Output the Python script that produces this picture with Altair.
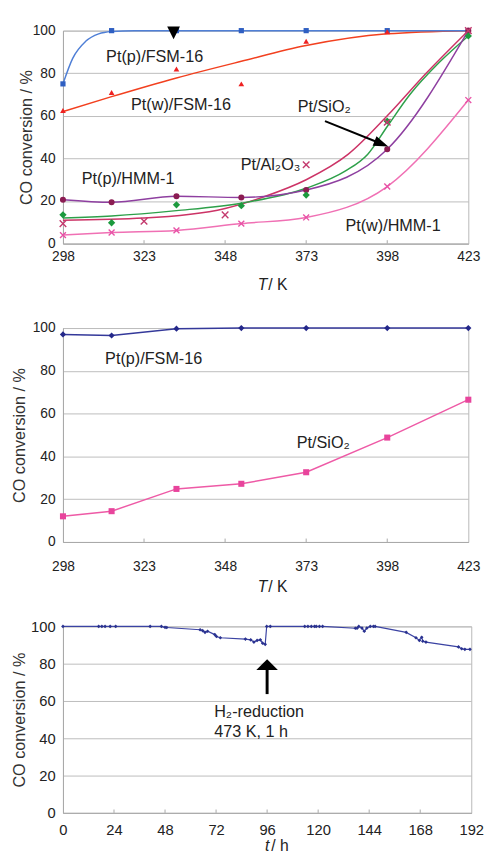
import altair as alt
import pandas as pd

FONT = "Liberation Sans"
TXT = "#222222"

# ---------------- panel (a): CO conversion vs T ----------------
T_ticks = [298, 323, 348, 373, 398, 423]
T_pts = [298, 313, 333, 353, 373, 398, 423]
T_al = [298, 323, 348, 373, 398, 423]

pfsm_a = [75, 100, 100, 100, 100, 100, 100]          # Pt(p)/FSM-16
wfsm_a = [62.5, 71, 82, 75, 95, 99.5, 100]          # Pt(w)/FSM-16
phmm_a = [20.6, 19.4, 22.2, 21.7, 25.2, 44.3, 100]  # Pt(p)/HMM-1
sio2_a = [13.5, 9.8, 18.2, 17.8, 22.8, 57.5, 97.5]  # Pt/SiO2
al2o3_a = [9.4, 10.5, 13.5, 37, 57, 100]            # Pt/Al2O3
whmm_a = [4.0, 5.2, 6.2, 9.4, 12.3, 26.8, 67.4]     # Pt(w)/HMM-1

# smoothed trend curves
pfsm_fit_T = [298, 301, 305, 309, 313, 320, 423]
pfsm_fit = [75, 87, 95, 98.5, 99.6, 100, 100]
wfsm_fit_T = [298, 313, 333, 353, 373, 398, 423]
wfsm_fit = [62, 69, 77.8, 85.6, 93, 98.5, 100]
sio2_fit_T = [298, 313, 333, 353, 373, 385, 392, 398, 405, 414, 423]
sio2_fit = [12, 13, 15.5, 19, 26, 34, 42, 55, 70, 85, 97.5]
al2o3_fit_T = [298, 323, 348, 360, 373, 386, 398, 410, 423]
al2o3_fit = [11, 12, 16.5, 22, 30, 42, 60, 80, 100]

ann_a_text = ["Pt(p)/FSM-16", "Pt(w)/FSM-16", "Pt/SiO\u2082", "Pt/Al\u2082O\u2083", "Pt(p)/HMM-1", "Pt(w)/HMM-1"]
ann_a_x = [311.3, 319, 370.4, 352.8, 303.8, 385.1]
ann_a_y = [87.8, 65.2, 64, 37, 30.2, 8.3]

arrow_a_x = [378.8]
arrow_a_y = [57.5]
arrow_a_x2 = [396.2]
arrow_a_y2 = [46.9]
marker_a_x = [332.1]
marker_a_y = [99.0]

# ---------------- panel (b) ----------------
pfsm_b = [97, 96.5, 99.7, 100, 100, 100, 100]
sio2_b = [12, 14.4, 24.8, 27.2, 32.6, 48.8, 66.5]
ann_b_text = ["Pt(p)/FSM-16", "Pt/SiO\u2082"]
ann_b_x = [311, 370.1]
ann_b_y = [85.3, 46]

# ---------------- panel (c): time on stream ----------------
t_ticks = [0, 24, 48, 72, 96, 120, 144, 168, 192]
hours = [0, 16.8, 18.3, 19.8, 22.2, 24.8, 41, 46.3, 48, 48.8, 64.5, 65.7, 66.8, 68,
         71.4, 72.2, 74, 85.8, 88.3, 89.8, 91.3, 92.8, 93.9, 95.1, 95.8, 97.5,
         113.7, 115.2, 116.8, 118.3, 119.1, 120.6, 122.1, 137.5, 138.3, 139.1,
         140.6, 141.7, 142.9, 144.5, 146, 146.8, 161.4, 166, 167.6, 168.7, 169.2,
         170.7, 186, 187.5, 189, 191.4]
conv_c = [100, 100, 100, 100, 100, 100, 100, 100, 99.5, 99.4, 98.2, 97.7, 96.8, 97.4,
          95.6, 94.6, 93.9, 93.2, 92.8, 91.6, 92.5, 92.8, 91.0, 90.4, 100, 100,
          100, 100, 100, 100, 100, 100, 100, 99.0, 99.0, 100,
          99.1, 97.4, 99.1, 100, 100, 100, 96.8, 93.9, 92.5, 94.2, 92.1,
          91.6, 89.0, 88.0, 87.7, 87.7]
ann_c_text = ["H\u2082-reduction", "473 K, 1 h"]
ann_c_x = [71.1, 71.1]
ann_c_y = [54.2, 43.3]
arrow_c_x = [96]
arrow_c_y = [63.7]
arrow_c_y2 = [77]
head_c_y = [79.5]


def df(**kw):
    return pd.DataFrame(kw)


def make_xy(domain, ticks, lab_pad, lab_size, y_title_x, height, y_lab_size):
    xs = alt.Scale(domain=domain, nice=False, zero=False)
    ys = alt.Scale(domain=[0, 100], nice=False)
    xax = alt.Axis(values=ticks, title=None, grid=False, ticks=False, tickSize=0,
                   labelPadding=lab_pad, labelFontSize=lab_size, domainColor="#a8a8a8",
                   labelFont=FONT, labelColor=TXT, labelFlush=False)
    yax = alt.Axis(values=[0, 20, 40, 60, 80, 100], title="CO conversion / %", grid=True,
                   gridColor="#bdbdbd", ticks=False, tickSize=0, labelPadding=8,
                   labelFontSize=y_lab_size, domainColor="#a8a8a8", labelFont=FONT,
                   labelColor=TXT, titleFont=FONT, titleFontSize=16.5,
                   titleFontWeight="normal", titleColor="#333333", titleX=y_title_x,
                   titleY=height / 2, titleBaseline="middle", titleAngle=270)
    return xs, ys, xax, yax


def line(d, color, sw=1.5, interp="monotone"):
    return alt.Chart(d).mark_line(color=color, strokeWidth=sw, interpolate=interp)


def pts(d, color, shape, size, filled=True, sw=1.5):
    return alt.Chart(d).mark_point(color=color, shape=shape, size=size, filled=filled,
                                   opacity=1, strokeWidth=sw)


def label(d, size=16.5, **kw):
    return alt.Chart(d).mark_text(baseline="middle", font=FONT, fontSize=size, color=TXT, **kw)


XSHAPE = "M -1 -1 L 1 1 M -1 1 L 1 -1"

# ---- panel a ----
H1 = 217
xs, ys, xax, yax = make_xy([298, 423], T_ticks, 6, 14, -37, H1, 14)
X = alt.X("x:Q", scale=xs, axis=xax)
Y = alt.Y("y:Q", scale=ys, axis=yax)

layers_a = [
    alt.Chart(df(x=T_ticks[1:-1], y=[0] * 4, y2=[1.6] * 4)).mark_rule(color="#a8a8a8").encode(X, Y, y2="y2:Q"),
    line(df(x=al2o3_fit_T, y=al2o3_fit), "#cc3366").encode(X, Y),
    line(df(x=sio2_fit_T, y=sio2_fit), "#2ea04a").encode(X, Y),
    line(df(x=T_pts, y=phmm_a), "#8e3fa0").encode(X, Y),
    line(df(x=T_pts, y=whmm_a), "#f070b4").encode(X, Y),
    line(df(x=wfsm_fit_T, y=wfsm_fit), "#f2401f").encode(X, Y),
    line(df(x=pfsm_fit_T, y=pfsm_fit), "#4f7fd6").encode(X, Y),
    pts(df(x=T_pts, y=pfsm_a), "#2f5fc2", "square", 28).encode(X, Y),
    pts(df(x=T_pts, y=wfsm_a), "#ee2222", "triangle-up", 34).encode(X, Y),
    pts(df(x=T_pts, y=phmm_a), "#8b1c52", "circle", 38).encode(X, Y),
    pts(df(x=T_pts, y=sio2_a), "#1c9a3e", "diamond", 55).encode(X, Y),
    pts(df(x=T_al, y=al2o3_a), "#c43a6e", XSHAPE, 45, filled=False, sw=1.4).encode(X, Y),
    pts(df(x=T_pts, y=whmm_a), "#e852a6", XSHAPE, 36, filled=False, sw=1.4).encode(X, Y),
    alt.Chart(df(x=marker_a_x, y=marker_a_y)).mark_point(
        shape="M -1 -1 L 1 -1 L 0 1 Z", size=169, filled=True, color="#000000", opacity=1).encode(X, Y),
    alt.Chart(df(x=arrow_a_x, y=arrow_a_y, x2=arrow_a_x2, y2=arrow_a_y2)).mark_rule(
        color="#000000", strokeWidth=2).encode(X, Y, x2="x2:Q", y2="y2:Q"),
    alt.Chart(df(x=arrow_a_x2, y=arrow_a_y2)).mark_point(
        shape="M -1 -0.7 L 1 0 L -1 0.7 Z", size=225, angle=22, filled=True,
        color="#000000", opacity=1).encode(X, Y),
    label(df(x=ann_a_x, y=ann_a_y, t=ann_a_text), align="left").encode(X, Y, text="t:N"),
    label(df(x=[361.0], y=[-19.4], t=["T"]), size=16, align="right", fontStyle="italic").encode(X, Y, text="t:N"),
    label(df(x=[361.0], y=[-19.4], t=["/ K"]), size=16, align="left", dx=1).encode(X, Y, text="t:N"),
]
pa = alt.layer(*layers_a).properties(width=413, height=H1)

# ---- panel b ----
H2 = 218
xs, ys, xax, yax = make_xy([298, 423], T_ticks, 18, 14, -44, H2, 14)
X = alt.X("x:Q", scale=xs, axis=xax)
Y = alt.Y("y:Q", scale=ys, axis=yax)
layers_b = [
    alt.Chart(df(x=T_ticks[1:-1], y=[0] * 4, y2=[1.6] * 4)).mark_rule(color="#a8a8a8").encode(X, Y, y2="y2:Q"),
    line(df(x=T_pts, y=pfsm_b), "#34399a", interp="linear").encode(X, Y),
    line(df(x=T_pts, y=sio2_b), "#ee5aa6", interp="linear").encode(X, Y),
    pts(df(x=T_pts, y=pfsm_b), "#24288a", "diamond", 40).encode(X, Y),
    pts(df(x=T_pts, y=sio2_b), "#e8449c", "square", 38).encode(X, Y),
    label(df(x=ann_b_x, y=ann_b_y, t=ann_b_text), align="left").encode(X, Y, text="t:N"),
    label(df(x=[361.0], y=[-21.1], t=["T"]), size=16, align="right", fontStyle="italic").encode(X, Y, text="t:N"),
    label(df(x=[361.0], y=[-21.1], t=["/ K"]), size=16, align="left", dx=1).encode(X, Y, text="t:N"),
]
pb = alt.layer(*layers_b).properties(width=413, height=H2)

# ---- panel c ----
H3 = 190
xs, ys, xax, yax = make_xy([0, 192], t_ticks, 10, 15, -44, H3, 15)
X = alt.X("x:Q", scale=xs, axis=xax)
Y = alt.Y("y:Q", scale=ys, axis=yax)
layers_c = [
    alt.Chart(df(x=t_ticks[1:-1], y=[0] * 7, y2=[1.8] * 7)).mark_rule(color="#a8a8a8").encode(X, Y, y2="y2:Q"),
    line(df(x=hours, y=conv_c), "#3b43a3", sw=1.2, interp="linear").encode(X, Y),
    pts(df(x=hours, y=conv_c), "#2a3290", "diamond", 14).encode(X, Y),
    alt.Chart(df(x=arrow_c_x, y=arrow_c_y, y2=arrow_c_y2)).mark_rule(
        color="#000000", strokeWidth=3).encode(X, Y, y2="y2:Q"),
    alt.Chart(df(x=arrow_c_x, y=head_c_y)).mark_point(
        shape="M -1 0.5 L 1 0.5 L 0 -0.5 Z", size=484, filled=True, color="#000000",
        opacity=1).encode(X, Y),
    label(df(x=ann_c_x, y=ann_c_y, t=ann_c_text), align="left").encode(X, Y, text="t:N"),
    label(df(x=[97.0], y=[-17.9], t=["t"]), size=16, align="right", fontStyle="italic").encode(X, Y, text="t:N"),
    label(df(x=[97.0], y=[-17.9], t=["/ h"]), size=16, align="left", dx=2).encode(X, Y, text="t:N"),
]
pc = alt.layer(*layers_c).properties(width=416, height=H3)

chart = alt.vconcat(pa, pb, pc, spacing=86, bounds="flush").resolve_scale(
    x="independent", y="independent"
).properties(
    padding={"left": 3, "top": 7, "right": 0, "bottom": 0},
    background="white",
).configure_view(stroke="#b8b8b8")

chart.save("out.html", embed_options={"renderer": "svg", "actions": False})
